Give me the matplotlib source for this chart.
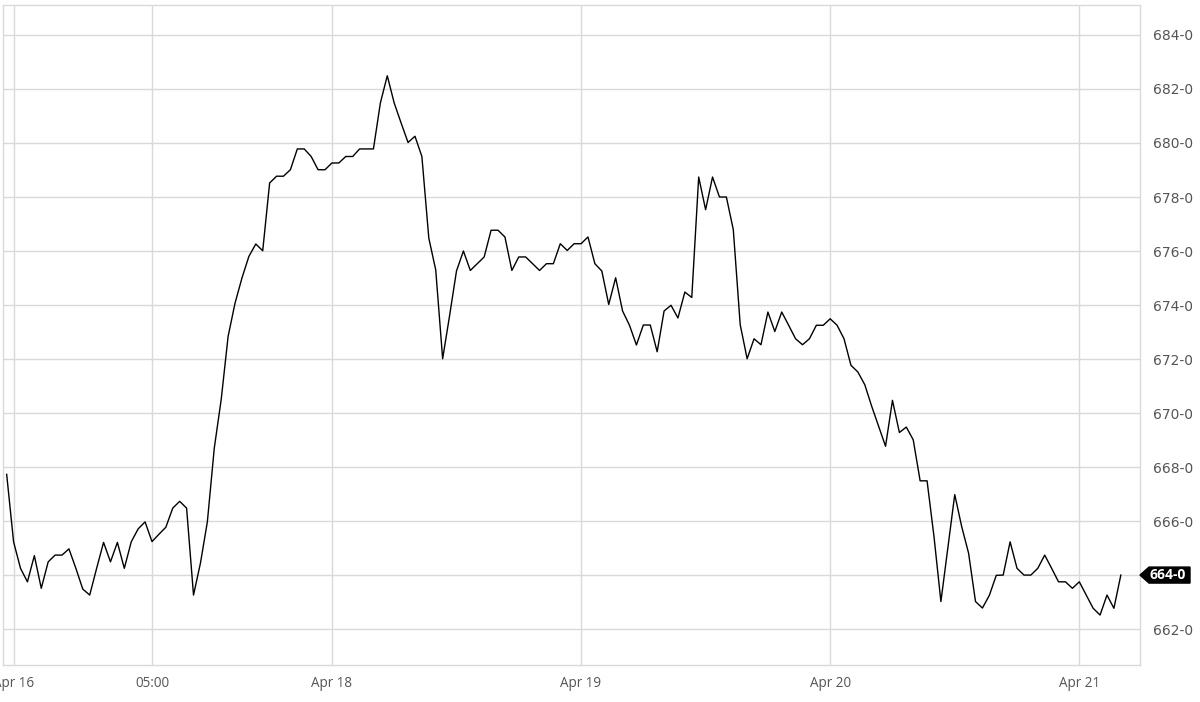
import matplotlib
matplotlib.use("Agg")
import matplotlib.pyplot as plt
from matplotlib.patches import Polygon
import matplotlib.transforms as mtransforms
import numpy as np

plt.rcParams['font.family'] = ['Open Sans', 'DejaVu Sans']

prices = [
    667.73, 665.23, 664.25, 663.75, 664.72, 663.51, 664.49, 664.74, 664.74, 664.97,
    664.25, 663.48, 663.26, 664.25, 665.21, 664.49, 665.21, 664.25, 665.23, 665.71,
    665.97, 665.24, 665.51, 665.77, 666.48, 666.73, 666.48, 663.26, 664.44, 665.97,
    668.70, 670.50, 672.84, 674.07, 675.00, 675.80, 676.26, 676.01, 678.52, 678.77,
    678.77, 679.01, 679.78, 679.78, 679.50, 679.01, 679.01, 679.26, 679.26, 679.50,
    679.50, 679.78, 679.78, 679.78, 681.48, 682.49, 681.48, 680.74, 680.02, 680.25,
    679.50, 676.48, 675.30, 672.01, 673.60, 675.26, 676.00, 675.28, 675.53, 675.78,
    676.77, 676.77, 676.52, 675.28, 675.78, 675.78, 675.53, 675.28, 675.53, 675.53,
    676.27, 676.02, 676.27, 676.27, 676.52, 675.53, 675.26, 674.02, 675.01, 673.78,
    673.25, 672.52, 673.26, 673.26, 672.27, 673.78, 673.99, 673.52, 674.48, 674.28,
    678.74, 677.53, 678.74, 678.00, 678.00, 676.79, 673.27, 672.01, 672.75, 672.53,
    673.74, 673.02, 673.74, 673.25, 672.75, 672.53, 672.75, 673.25, 673.25, 673.49,
    673.25, 672.75, 671.77, 671.52, 671.05, 670.25, 669.51, 668.77, 670.47, 669.28,
    669.48, 669.01, 667.49, 667.49, 665.43, 663.02, 665.00, 666.98, 665.80, 664.81,
    663.02, 662.78, 663.25, 663.99, 664.00, 665.23, 664.25, 664.00, 664.00, 664.25,
    664.74, 664.25, 663.75, 663.75, 663.51, 663.75, 663.26, 662.77, 662.52, 663.26,
    662.77, 664.00,
]

x_tick_index = [1, 21, 47, 83, 119, 155]
x_tick_labels = ["Apr 16", "05:00", "Apr 18", "Apr 19", "Apr 20", "Apr 21"]

y_ticks = [662, 664, 666, 668, 670, 672, 674, 676, 678, 680, 682, 684]
y_tick_labels = ["662-0", "", "666-0", "668-0", "670-0", "672-0", "674-0",
                 "676-0", "678-0", "680-0", "682-0", "684-0"]

last_label = "664-0"

fig = plt.figure(figsize=(12, 7.02), dpi=100)
ax = fig.add_axes([3 / 1200, 1 - 665 / 702, (1140 - 3) / 1200, 660 / 702])

x = np.arange(len(prices))
ax.plot(x, prices, color="black", linewidth=1.0, zorder=3)

ax.set_xlim(-0.53, 163.77)
ax.set_ylim(660.67, 685.11)

grid_c = "#d9d9d9"
ax.set_xticks(x_tick_index)
ax.set_xticklabels(x_tick_labels)
ax.set_yticks(y_ticks)
ax.set_yticklabels(y_tick_labels)
ax.yaxis.tick_right()
ax.grid(True, color=grid_c, linewidth=1.0)
ax.set_axisbelow(True)

ax.tick_params(axis="both", length=0, colors="#555555")
ax.tick_params(axis="x", labelsize=9.75, pad=8)
ax.tick_params(axis="y", labelsize=10, pad=9.4)
for lab in ax.get_yticklabels():
    lab.set_family("DejaVu Sans")

for s in ax.spines.values():
    s.set_color(grid_c)
    s.set_linewidth(1.0)

# last-value tag (pentagon pointing at the axis)
px = ax.transAxes.inverted()
dpx = ax.transData
last = prices[-1]
tip_disp = dpx.transform((0, last))[1]
fig_w = fig.bbox.width
ax_left = ax.bbox.x0
ax_w = ax.bbox.width
def ax_frac(xpix):
    return (xpix - ax_left) / ax_w
half_h = 8
trans = mtransforms.blended_transform_factory(ax.transAxes, mtransforms.IdentityTransform())
poly = Polygon([(ax_frac(1140), tip_disp),
                (ax_frac(1149), tip_disp + half_h),
                (ax_frac(1190), tip_disp + half_h),
                (ax_frac(1190), tip_disp - half_h),
                (ax_frac(1149), tip_disp - half_h)],
               closed=True, facecolor="black", edgecolor="black",
               transform=trans, clip_on=False, zorder=5)
ax.add_patch(poly)
ax.text(ax_frac(1168), tip_disp, last_label, transform=trans,
        ha="center", va="center", fontsize=10, fontweight="bold",
        color="white", clip_on=False, zorder=6)

fig.savefig("out.png", dpi=100)
